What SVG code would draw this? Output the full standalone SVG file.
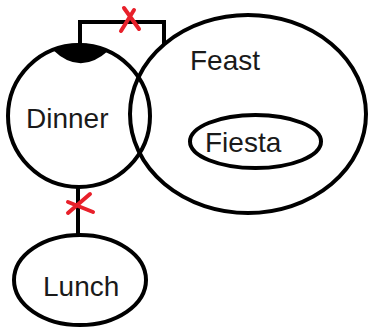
<svg xmlns="http://www.w3.org/2000/svg" width="370" height="331" viewBox="0 0 370 331">
<style>
.shape{fill:none;stroke:#000;stroke-width:4}
.line{fill:none;stroke:#000;stroke-width:4}
.cross{fill:none;stroke:#e8202a;stroke-width:4;stroke-linecap:round}
.label{font-family:"Liberation Sans",Arial,sans-serif;font-size:28px;fill:#1a1a1a}
</style>
<rect width="370" height="331" fill="#fff"/>
<g id="feast">
<ellipse class="shape" cx="248" cy="114" rx="118" ry="99"/>
<text class="label" x="190" y="70">Feast</text>
</g>
<g id="fiesta">
<ellipse class="shape" cx="255.5" cy="141.5" rx="65.5" ry="26.5"/>
<text class="label" x="205" y="152">Fiesta</text>
</g>
<g id="dinner">
<ellipse class="shape" cx="79" cy="116" rx="71" ry="71"/>
<path d="M53,50 Q80,36 108,51 Q80,76 53,50 Z" fill="#000"/>
<text class="label" x="26" y="128">Dinner</text>
</g>
<g id="lunch">
<ellipse class="shape" cx="80" cy="280" rx="66" ry="45"/>
<text class="label" x="43" y="296">Lunch</text>
</g>
<g id="connectors">
<path class="line" d="M80,46 V22 H164 V44"/>
<path class="cross" d="M124,8 L139,29 M134,10 L121,31"/>
<path class="line" d="M78,187 V235"/>
<path class="cross" d="M90,194 L68,213 M68,202 L93,212"/>
</g>
</svg>
